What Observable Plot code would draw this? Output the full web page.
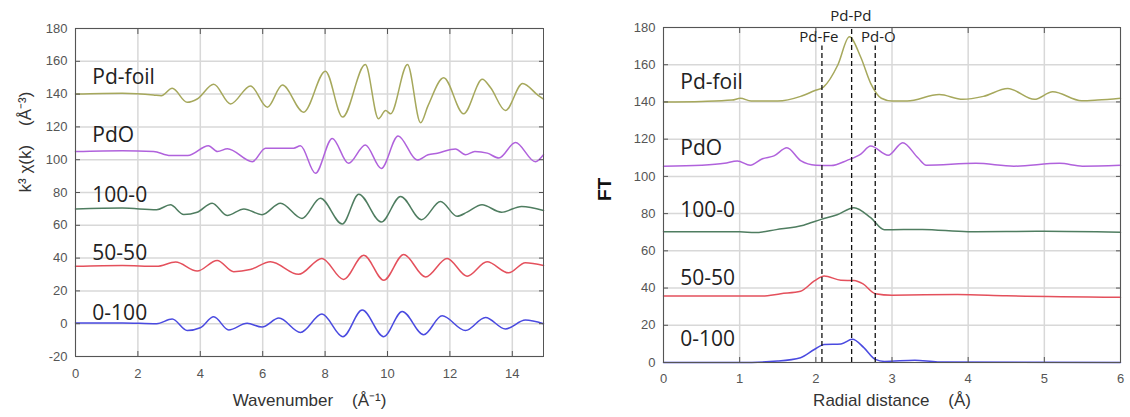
<!DOCTYPE html>
<html><head><meta charset="utf-8">
<script src="https://cdn.jsdelivr.net/npm/d3@7"></script>
<script src="https://cdn.jsdelivr.net/npm/@observablehq/plot@0.6"></script>
<style>
html,body{margin:0;padding:0;background:#fff;}
#wrap{display:flex;width:1130px;height:417px;overflow:hidden;}
</style></head><body><div id="wrap"></div>
<script>
// ---------- data ----------
const seriesNames = ["Pd-foil", "PdO", "100-0", "50-50", "0-100"];

// left panel: k^3 chi(k) vs wavenumber
const kTicks = [0, 2, 4, 6, 8, 10, 12, 14];
const chiTicks = [-20, 0, 20, 40, 60, 80, 100, 120, 140, 160, 180];
const chiFoil = [[0,140],[1.5,140.5],[2.5,139.5],[2.75,139],[3.1,143.5],[3.58,135],[3.9,137],[4.43,146],[4.97,134],[5.61,145],[6.15,132],[6.63,145.5],[7.31,129],[8.01,154],[8.56,126],[9.29,158],[9.71,125],[9.94,130],[10.1,128],[10.64,158],[11.06,122.5],[11.3,133],[11.8,150],[12.44,128],[13.04,149],[13.3,144],[13.78,130],[14.33,146.5],[14.84,139],[15,137]];
const chiPdO = [[0,105],[1.5,105.5],[2.5,105],[3.04,102.5],[3.6,102.5],[4.26,108.5],[4.55,105],[4.87,106.7],[5.67,98.8],[6.09,107],[6.99,107],[7.21,108.5],[7.69,91.7],[8.23,113],[8.75,97.8],[9.29,109],[9.8,94.7],[10.34,114.5],[10.95,99.8],[11.3,103],[11.6,104],[12.18,106.5],[12.5,103],[12.8,105],[13.2,104],[13.57,101],[14.1,110.5],[14.74,98.8],[15,103]];
const chi100 = [[0,70],[1.5,70.5],[2.6,69.5],[3.04,72.5],[3.47,66.6],[3.9,68],[4.38,73.5],[4.86,66],[5.4,70],[5.98,66.5],[6.57,73.5],[7.26,64.2],[7.85,76.5],[8.55,60.8],[9.08,79],[9.8,62],[10.42,77.6],[11.09,63.4],[11.7,74.5],[12.23,65.5],[12.55,68],[13.03,72.5],[13.65,68],[14.3,71.5],[15,69]];
const chi50 = [[0,35],[1.5,35.5],[2.6,35],[3.21,37.6],[3.9,32.1],[4.54,38.6],[5.07,31.7],[5.6,33],[6.25,37.8],[7.15,30.1],[7.9,39.8],[8.59,27],[9.24,41.8],[9.88,26.5],[10.52,42.2],[11.22,28.5],[11.91,39.8],[12.55,29],[13.19,37.8],[13.88,31],[14.42,37.2],[15,35.5]];
const chi0 = [[0,0.5],[1.5,0.5],[2.6,0],[3.1,2.8],[3.58,-4.2],[4.0,-2.5],[4.43,4.2],[4.91,-3.8],[5.5,0.2],[5.98,-2],[6.52,3.4],[7.21,-5.3],[7.9,5.9],[8.57,-7.9],[9.19,8.3],[9.88,-7.9],[10.47,7.5],[11.16,-6.7],[11.75,4.8],[12.5,-4.2],[13.14,3.8],[13.78,-3.2],[14.42,2.2],[15,0]];
const chiLabelX = 0.54;
const chiLabelY = [146, 110.5, 74, 38.8, 2.2];

// right panel: FT vs radial distance
const rTicks = [0, 1, 2, 3, 4, 5, 6];
const ftTicks = [0, 20, 40, 60, 80, 100, 120, 140, 160, 180];
const ftFoil = [[0,140],[0.5,140.3],[0.9,141],[1.01,142],[1.15,140.5],[1.5,140.5],[1.8,143],[1.98,146],[2.1,148],[2.29,160],[2.44,175],[2.59,164],[2.72,150],[2.86,142],[3.0,140.5],[3.2,140.5],[3.62,144],[3.93,141.4],[4.2,143],[4.52,147.2],[4.87,141.4],[5.11,145.5],[5.49,140.6],[5.7,141],[6,142]];
const ftPdO = [[0,105.5],[0.5,106],[0.8,107],[0.97,108.3],[1.14,106],[1.3,109.5],[1.45,111],[1.62,115.4],[1.8,108.5],[2.0,106],[2.2,105.8],[2.41,108.6],[2.59,112],[2.72,116.3],[2.95,111.3],[3.14,118.1],[3.34,110],[3.45,106],[4.1,107],[4.6,105.5],[5.2,107],[5.5,105.5],[6,106]];
const ft100 = [[0,70.2],[1.0,70.2],[1.2,69.8],[1.48,71.4],[1.84,73.8],[2.07,76.9],[2.28,79.4],[2.5,83.2],[2.72,77.8],[2.9,71.3],[3.4,71.5],[4,70.3],[5,70.5],[6,70]];
const ft50 = [[0,35.7],[1.3,35.7],[1.54,37],[1.8,38.3],[1.98,43.8],[2.11,46.5],[2.33,44.2],[2.5,44],[2.62,42.2],[2.78,37],[3.0,36.2],[3.86,36.5],[4.5,35.8],[6,35]];
const ft0 = [[0,0],[1.0,0],[1.5,0.8],[1.8,2.6],[1.98,7],[2.11,9.7],[2.33,10],[2.48,12.5],[2.63,8],[2.78,1.7],[2.9,0.6],[3.3,1.2],[3.6,0.3],[6,0]];
const ftLabelX = 0.22;
const ftLabelY = [147.2, 111.5, 78, 41.5, 8.9];

// bond markers (dashed lines)
const bondNames = ["Pd-Fe", "Pd-Pd", "Pd-O"];
const bondR = [2.08, 2.47, 2.78];
const bondTop = [170, 180, 170];
const bondLabelR = [2.04, 2.46, 2.82];
const bondLabelY = [172, 183.5, 172];

// ---------- styling ----------
const colors = ["#a6a85c", "#b062dc", "#4f7d60", "#e4505c", "#4a4ae0"];
const tickFont = "'Liberation Sans', Arial, sans-serif";
const labelFont = "'Open Sans', sans-serif";
const gridColor = "#d8d8d8";
const sp = "\u00a0\u00a0\u00a0\u00a0";
const fmt = d => String(d);

function seriesMarks(list, labelX, labelY) {
  const marks = [];
  list.forEach((s, i) => {
    marks.push(Plot.line(s, {x: d => d[0], y: d => d[1], stroke: colors[i], strokeWidth: 1.5, curve: "monotone-x"}));
  });
  marks.push(Plot.text(seriesNames.map((n, i) => ({n, y: labelY[i]})), {
    x: () => labelX, y: "y", text: "n", textAnchor: "start", lineAnchor: "bottom",
    fontFamily: labelFont, fontSize: 21, fill: "#222"
  }));
  return marks;
}

function frameAxes(xt, yt, xPad, yPad) {
  return [
    Plot.axisX(xt, {anchor: "bottom", tickSize: -5, tickPadding: xPad, tickFormat: fmt, label: null, color: "#555", fontSize: 13}),
    Plot.axisX(xt, {anchor: "top", tickSize: -5, tickFormat: () => "", label: null, color: "#555"}),
    Plot.axisY(yt, {anchor: "left", tickSize: -5, tickPadding: yPad, tickFormat: fmt, label: null, color: "#555", fontSize: 13}),
    Plot.axisY(yt, {anchor: "right", tickSize: -5, tickFormat: () => "", label: null, color: "#555"}),
    Plot.frame({stroke: "#555"})
  ];
}

const left = Plot.plot({
  width: 560, height: 417,
  marginLeft: 75, marginRight: 17, marginTop: 28, marginBottom: 61,
  style: {fontFamily: tickFont, fontSize: "13px", color: "#555", background: "white", overflow: "visible"},
  x: {domain: [0, 15]},
  y: {domain: [-20, 180]},
  marks: [
    Plot.gridX(kTicks, {stroke: gridColor, strokeOpacity: 1, strokeWidth: 1.5}),
    Plot.gridY(chiTicks, {stroke: gridColor, strokeOpacity: 1, strokeWidth: 1.5}),
    ...seriesMarks([chiFoil, chiPdO, chi100, chi50, chi0], chiLabelX, chiLabelY),
    ...frameAxes(kTicks, chiTicks, 17, 13),
    Plot.text(["Wavenumber" + sp + "(Å\u207B\u00B9)"], {frameAnchor: "bottom", dy: 49, text: d => d, fontSize: 17, fill: "#333", fontFamily: tickFont}),
    Plot.text(["k\u00B3 \u03C7(k)" + sp + "(Å\u207B\u00B3)"], {frameAnchor: "left", dx: -50, rotate: -90, text: d => d, fontSize: 17, fill: "#333", fontFamily: tickFont})
  ]
});

const right = Plot.plot({
  width: 570, height: 417,
  marginLeft: 103, marginRight: 10, marginTop: 27, marginBottom: 55,
  style: {fontFamily: tickFont, fontSize: "13px", color: "#555", background: "white", overflow: "visible"},
  x: {domain: [0, 6]},
  y: {domain: [0, 180]},
  marks: [
    Plot.gridX(rTicks, {stroke: gridColor, strokeOpacity: 1, strokeWidth: 1.5}),
    Plot.gridY(ftTicks, {stroke: gridColor, strokeOpacity: 1, strokeWidth: 1.5}),
    ...seriesMarks([ftFoil, ftPdO, ft100, ft50, ft0], ftLabelX, ftLabelY),
    Plot.ruleX(bondNames.map((n, i) => ({r: bondR[i], top: bondTop[i]})), {x: "r", y1: 0, y2: "top", stroke: "#111", strokeWidth: 1.3, strokeDasharray: "5,3"}),
    Plot.text(bondNames.map((n, i) => ({n, r: bondLabelR[i], y: bondLabelY[i]})), {x: "r", y: "y", text: "n", lineAnchor: "bottom", fontFamily: labelFont, fontSize: 15, fill: "#222"}),
    ...frameAxes(rTicks, ftTicks, 16, 13),
    Plot.text(["Radial distance" + sp + "(Å)"], {frameAnchor: "bottom", dy: 43, text: d => d, fontSize: 17, fill: "#333", fontFamily: tickFont}),
    Plot.text(["FT"], {frameAnchor: "left", dx: -59, dy: 6, rotate: -90, text: d => d, fontSize: 19, fontWeight: "bold", fill: "#111", fontFamily: tickFont})
  ]
});

document.getElementById("wrap").append(left, right);
</script></body></html>
